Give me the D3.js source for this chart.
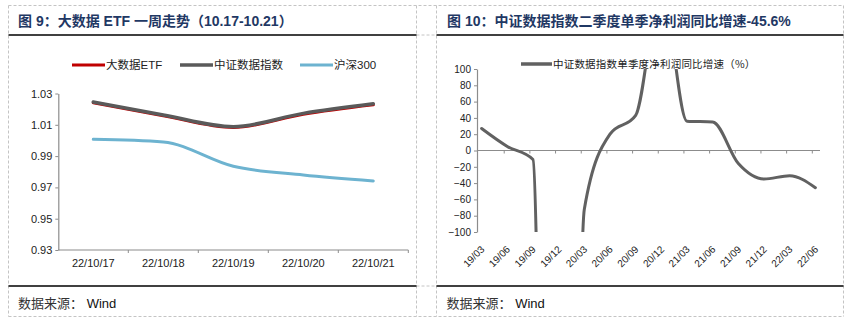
<!DOCTYPE html>
<html><head><meta charset="utf-8">
<script src="https://cdn.jsdelivr.net/npm/d3@7"></script>
<style>body{margin:0;background:#fff}svg{display:block}</style>
</head><body><svg id="c" width="848" height="324"></svg>
<script>
// ---------- data ----------
const etfDates = ["22/10/17","22/10/18","22/10/19","22/10/20","22/10/21"];
const etfValues = [1.0240, 1.0158, 1.0083, 1.0168, 1.0228];
const indexValues = [1.0246, 1.0163, 1.0088, 1.0173, 1.0234];
const hs300Values = [1.0007, 0.9990, 0.9835, 0.9779, 0.9741];
const leftYTicks = [0.93, 0.95, 0.97, 0.99, 1.01, 1.03];
const leftSeriesNames = ["大数据ETF", "中证数据指数", "沪深300"];

const quarters = ["19/03","19/06","19/09","19/12","20/03","20/06","20/09","20/12","21/03","21/06","21/09","21/12","22/03","22/06"];
const profitGrowth = [27, 5, -11, -2000, -72, 20, 43, 201, 36, 35, -16, -35, -31, -45.6];
const rightYTicks = [-100, -80, -60, -40, -20, 0, 20, 40, 60, 80, 100];
const rightSeriesName = "中证数据指数单季度净利润同比增速（%）";

const title1 = "图 9：大数据 ETF 一周走势（10.17-10.21）";
const title2 = "图 10：中证数据指数二季度单季净利润同比增速-45.6%";
const sourceText = "数据来源：";
const sourceName = " Wind";

// ---------- styles ----------
const FONT = "'Liberation Sans', Arial, 'Noto Sans CJK SC', sans-serif";
const CJK = "'Noto Sans CJK SC', sans-serif";
const svg = d3.select("#c");
const colors = {etf: "#c00000", idx: "#5a5a5a", hs: "#6db3d0", axis: "#8c8c8c", title: "#1f3864"};

// ---------- frame ----------
const frame = svg.append("g");
const dash = "3,2";
const vx = [8.5, 416.5, 436.5, 843.5];
vx.forEach(x => frame.append("line").attr("x1", x).attr("x2", x).attr("y1", 5.5).attr("y2", 316.5)
  .attr("stroke", "#c4c4c4").attr("stroke-dasharray", dash));
[5.5, 316.5].forEach(y => frame.append("line").attr("x1", 8.5).attr("x2", 843.5).attr("y1", y).attr("y2", y)
  .attr("stroke", "#c4c4c4").attr("stroke-dasharray", dash));
[35, 286].forEach(y => frame.append("line").attr("x1", 416.5).attr("x2", 436.5).attr("y1", y).attr("y2", y)
  .attr("stroke", "#c4c4c4").attr("stroke-dasharray", dash));
[[8.5, 416.5], [436.5, 843.5]].forEach(([a, b]) => {
  [35, 286].forEach(y => frame.append("line").attr("x1", a).attr("x2", b).attr("y1", y).attr("y2", y)
    .attr("stroke", "#000").attr("stroke-width", 1.6));
});

// titles
svg.append("text").attr("x", 18).attr("y", 25.5).attr("fill", colors.title)
  .style("font-family", FONT).style("font-size", "14px").style("font-weight", "bold").text(title1);
svg.append("text").attr("x", 447).attr("y", 25.5).attr("fill", colors.title)
  .style("font-family", FONT).style("font-size", "14px").style("font-weight", "bold").text(title2);

// sources
[[18], [446.5]].forEach(([x]) => {
  const t = svg.append("text").attr("x", x).attr("y", 307.5).style("font-family", FONT).style("font-size", "13px").attr("fill", "#111");
  t.append("tspan").style("font-family", CJK).attr("fill", "#333").text(sourceText);
  t.append("tspan").attr("xml:space", "preserve").style("white-space", "pre").text(sourceName);
});

// ---------- left chart ----------
const L = {x0: 58.3, x1: 408.3, y0: 250, y1: 93.5};
const xL = d3.scaleBand().domain(etfDates).range([L.x0, L.x1]).paddingInner(0).paddingOuter(0);
const yL = d3.scaleLinear().domain([0.93, 1.03]).range([L.y0, L.y1]);
const gL = svg.append("g");

const yAxisL = d3.axisLeft(yL).tickValues(leftYTicks).tickFormat(d3.format(".2f")).tickSize(3).tickSizeOuter(0);
const gyL = gL.append("g").attr("transform", `translate(${L.x0},0)`).call(yAxisL);
gyL.select(".domain").attr("stroke", colors.axis).attr("stroke-width", 1.2);
gyL.selectAll(".tick line").attr("stroke", colors.axis);
gyL.selectAll(".tick text").style("font-family", FONT).style("font-size", "11px").attr("fill", "#222");

// x axis
gL.append("line").attr("x1", L.x0).attr("x2", L.x1).attr("y1", L.y0).attr("y2", L.y0).attr("stroke", colors.axis).attr("stroke-width", 1.2);
etfDates.forEach(d => {
  gL.append("line").attr("x1", xL(d) + xL.bandwidth()).attr("x2", xL(d) + xL.bandwidth())
    .attr("y1", L.y0).attr("y2", L.y0 + 3).attr("stroke", colors.axis);
  gL.append("text").attr("x", xL(d) + xL.bandwidth() / 2).attr("y", 267).attr("text-anchor", "middle")
    .style("font-family", FONT).style("font-size", "11px").attr("fill", "#222").text(d);
});

const lineL = vals => d3.line().x((d, i) => xL(etfDates[i]) + xL.bandwidth() / 2).y(d => yL(d)).curve(d3.curveMonotoneX)(vals);
gL.append("path").attr("d", lineL(hs300Values)).attr("fill", "none").attr("stroke", colors.hs).attr("stroke-width", 3).attr("stroke-linecap", "round");
gL.append("path").attr("d", lineL(etfValues)).attr("fill", "none").attr("stroke", colors.etf).attr("stroke-width", 3).attr("stroke-linecap", "round");
gL.append("path").attr("d", lineL(indexValues)).attr("fill", "none").attr("stroke", colors.idx).attr("stroke-width", 3.5).attr("stroke-linecap", "round");

// legend left
const legL = [[72, colors.etf, 3], [180, colors.idx, 3.5], [300, colors.hs, 3]];
legL.forEach(([x, c, w], i) => {
  gL.append("line").attr("x1", x).attr("x2", x + 33).attr("y1", 65).attr("y2", 65).attr("stroke", c).attr("stroke-width", w);
  gL.append("text").attr("x", x + 34).attr("y", 69).style("font-family", FONT).style("font-size", "11.5px").attr("fill", "#222").text(leftSeriesNames[i]);
});

// ---------- right chart ----------
const R = {x0: 477, x1: 820, y0: 232, y1: 69};
const xR = d3.scalePoint().domain(quarters).range([R.x0, R.x1]).padding(0.18);
const yR = d3.scaleLinear().domain([-100, 100]).range([R.y0, R.y1]);
const gR = svg.append("g");

const yAxisR = d3.axisLeft(yR).tickValues(rightYTicks).tickSize(3).tickSizeOuter(0);
const gyR = gR.append("g").attr("transform", `translate(${R.x0},0)`).call(yAxisR);
gyR.select(".domain").attr("stroke", colors.axis).attr("stroke-width", 1.2);
gyR.selectAll(".tick line").attr("stroke", colors.axis);
gyR.selectAll(".tick text").style("font-family", FONT).style("font-size", "10px").attr("fill", "#222");

// zero line and ticks
gR.append("line").attr("x1", R.x0).attr("x2", R.x1).attr("y1", yR(0)).attr("y2", yR(0)).attr("stroke", colors.axis).attr("stroke-width", 1.2);
const stepR = xR.step();
quarters.forEach((q, i) => {
  if (i < quarters.length - 1) {
    const tx = xR(q) + stepR * 0.88;
    gR.append("line").attr("x1", tx).attr("x2", tx).attr("y1", yR(0)).attr("y2", yR(0) + 3).attr("stroke", colors.axis);
  }
  gR.append("text").attr("transform", `translate(${xR(q) + 3.5},250) rotate(-45)`).attr("text-anchor", "end")
    .style("font-family", FONT).style("font-size", "10px").attr("fill", "#222").text(q);
});

svg.append("clipPath").attr("id", "clipR").append("rect").attr("x", R.x0).attr("y", R.y1).attr("width", R.x1 - R.x0 + 10).attr("height", R.y0 - R.y1);
const lineR = d3.line().x((d, i) => xR(quarters[i])).y(d => yR(d)).curve(d3.curveMonotoneX);
gR.append("path").attr("d", lineR(profitGrowth)).attr("clip-path", "url(#clipR)")
  .attr("fill", "none").attr("stroke", "#616161").attr("stroke-width", 3).attr("stroke-linecap", "round");

// legend right
gR.append("line").attr("x1", 521).attr("x2", 552).attr("y1", 64).attr("y2", 64).attr("stroke", "#616161").attr("stroke-width", 3.5);
gR.append("text").attr("x", 553).attr("y", 68).style("font-family", CJK).style("font-size", "10.5px")
  .style("letter-spacing", "0.2px").attr("fill", "#222").text(rightSeriesName);
</script></body></html>
